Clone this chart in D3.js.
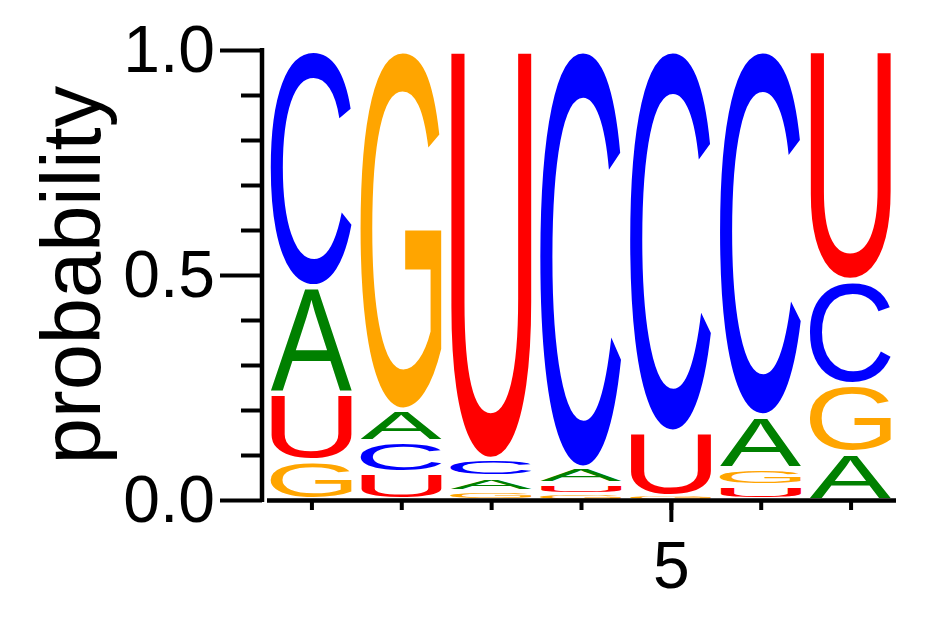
<!DOCTYPE html>
<html>
<head>
<meta charset="utf-8">
<script src="https://cdn.jsdelivr.net/npm/d3@7"></script>
<style>
  body { margin: 0; background: #fff; }
  svg { display: block; }
</style>
</head>
<body>
<svg id="svg0" width="942" height="617"></svg>
<script>
var positions = [1, 2, 3, 4, 5, 6, 7];
var probA = [0.237, 0.071, 0.031, 0.035, 0.000, 0.117, 0.106];
var probC = [0.526, 0.069, 0.039, 0.929, 0.849, 0.813, 0.232];
var probG = [0.088, 0.800, 0.020, 0.014, 0.008, 0.038, 0.150];
var probU = [0.149, 0.060, 0.910, 0.022, 0.143, 0.032, 0.512];
var letters = ['A', 'C', 'G', 'U'];
var yTicks = [0, 0.5, 1];
var yMinorTicks = [0.1, 0.2, 0.3, 0.4, 0.6, 0.7, 0.8, 0.9];
var xLabelTicks = [5];

var colors = {A: '#008000', C: '#0000ff', G: '#ffa500', U: '#ff0000'};
var font = "'Liberation Sans', Arial, Helvetica, sans-serif";

var svg0 = d3.select('#svg0');

var x = d3.scaleLinear().domain([0.5, 7.5]).range([266.5, 895.5]);
var y = d3.scaleLinear().domain([0, 1]).range([500, 50]);
var letterW = 81.5;

// ink bounds of each glyph, to stretch it into its box
var ctx = document.createElement('canvas').getContext('2d');
ctx.font = "100px " + font;
var ink = {};
letters.forEach(function(l) {
    var m = ctx.measureText(l);
    ink[l] = {L: m.actualBoundingBoxLeft, R: m.actualBoundingBoxRight,
              A: m.actualBoundingBoxAscent, D: m.actualBoundingBoxDescent};
});

var probs = {A: probA, C: probC, G: probG, U: probU};
var stacks = [];
positions.forEach(function(p, i) {
    var col = letters.map(function(l) { return {letter: l, pos: p, value: probs[l][i]}; })
        .filter(function(d) { return d.value > 0; })
        .sort(function(a, b) { return a.value - b.value; });
    var cum = 0;
    col.forEach(function(d) { d.y0 = cum; cum += d.value; d.y1 = cum; stacks.push(d); });
});

var logo = svg0.append('g');

logo.selectAll('text')
    .data(stacks)
    .enter()
    .append('text')
    .text(function(d) { return d.letter; })
    .attr('font-family', font)
    .attr('font-size', 100)
    .attr('fill', function(d) { return colors[d.letter]; })
    .attr('transform', function(d) {
        var g = ink[d.letter];
        var rawH = y(d.y0) - y(d.y1);
        var pad = Math.min(2.5, rawH * 0.2);
        var h = Math.max(rawH - 2 * pad, 0.8);
        var top = y(d.y1) + pad;
        var left = x(d.pos) - letterW / 2;
        var sx = letterW / (g.L + g.R);
        var sy = h / (g.A + g.D);
        return 'translate(' + (left + g.L * sx) + ',' + (top + g.A * sy) + ') scale(' + sx + ',' + sy + ')';
    });

// y axis
var yMinor = svg0.append('g')
    .attr('transform', 'translate(262,0)')
    .call(d3.axisLeft(y).tickValues(yMinorTicks).tickSize(21).tickSizeOuter(0).tickFormat(''));
yMinor.select('.domain').remove();

var yMajor = svg0.append('g')
    .attr('transform', 'translate(262,0)')
    .call(d3.axisLeft(y).tickValues(yTicks).tickSize(42).tickSizeOuter(0).tickPadding(5).tickFormat(d3.format('.1f')));

svg0.selectAll('g line').attr('stroke', '#000').attr('stroke-width', 4);
yMajor.select('.domain')
    .attr('d', 'M0,48V502')
    .attr('stroke', '#000')
    .attr('stroke-width', 4.5);
yMajor.selectAll('text')
    .attr('font-family', font)
    .attr('font-size', 66)
    .attr('fill', '#000');

// x axis
var xMinor = svg0.append('g')
    .attr('transform', 'translate(0,500)')
    .call(d3.axisBottom(x).tickValues(positions).tickSize(10).tickSizeOuter(0).tickFormat(''));
xMinor.select('.domain')
    .attr('stroke', '#000')
    .attr('stroke-width', 4.3);

var xMajor = svg0.append('g')
    .attr('transform', 'translate(0,500)')
    .call(d3.axisBottom(x).tickValues(xLabelTicks).tickSize(22).tickSizeOuter(0).tickPadding(19).tickFormat(d3.format('d')));
xMajor.select('.domain').remove();
xMajor.selectAll('text')
    .attr('font-family', font)
    .attr('font-size', 66)
    .attr('fill', '#000');

svg0.selectAll('g.tick line').attr('stroke', '#000').attr('stroke-width', 4);

svg0.append('text')
    .attr('transform', 'translate(100,275) rotate(-90)')
    .attr('text-anchor', 'middle')
    .attr('font-family', font)
    .attr('font-size', 83)
    .attr('fill', '#000')
    .text('probability');
</script>
</body>
</html>
